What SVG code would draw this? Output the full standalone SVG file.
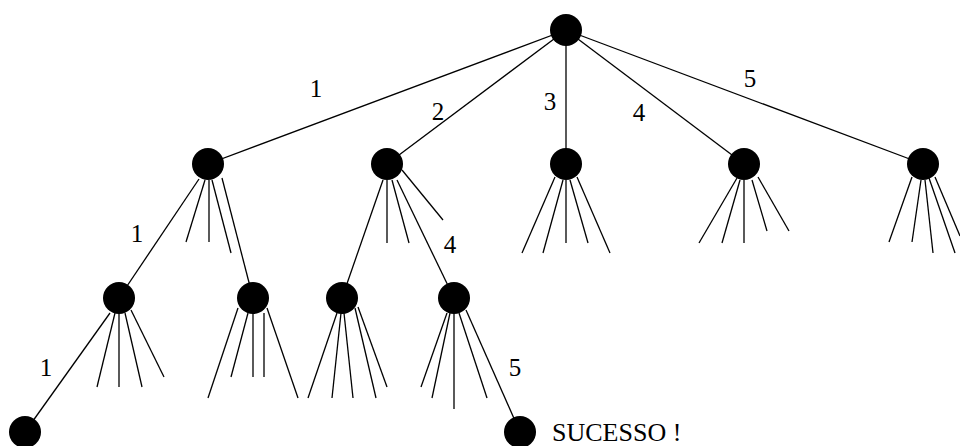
<svg xmlns="http://www.w3.org/2000/svg" width="960" height="446" viewBox="0 0 960 446">
<style>
.e{stroke:#000;stroke-width:1.3;fill:none}
.n{fill:#000}
.t{font-family:"Liberation Serif","Times New Roman",serif;font-size:25px;fill:#000}
</style>
<rect width="960" height="446" fill="#fff"/>
<g id="connectors" class="e">
<line x1="566" y1="30" x2="208" y2="164"/>
<line x1="566" y1="30" x2="387" y2="164"/>
<line x1="566" y1="30" x2="566" y2="164"/>
<line x1="566" y1="30" x2="744" y2="164"/>
<line x1="566" y1="30" x2="923" y2="164"/>
<line x1="199" y1="179" x2="119" y2="298"/>
<line x1="205" y1="180" x2="186" y2="242"/>
<line x1="209" y1="180" x2="209" y2="242"/>
<line x1="212" y1="180" x2="231" y2="253"/>
<line x1="222" y1="178" x2="253" y2="298"/>
<line x1="383" y1="180" x2="342" y2="298"/>
<line x1="387" y1="180" x2="387" y2="243"/>
<line x1="392" y1="180" x2="409" y2="243"/>
<line x1="397" y1="180" x2="454" y2="298"/>
<line x1="402" y1="170" x2="443" y2="220"/>
<line x1="555" y1="177" x2="522" y2="253"/>
<line x1="563" y1="180" x2="543" y2="253"/>
<line x1="566" y1="180" x2="566" y2="243"/>
<line x1="570" y1="180" x2="588" y2="243"/>
<line x1="577" y1="177" x2="610" y2="253"/>
<line x1="737" y1="178" x2="699" y2="243"/>
<line x1="740" y1="180" x2="722" y2="243"/>
<line x1="744" y1="180" x2="744" y2="243"/>
<line x1="752" y1="180" x2="767" y2="231"/>
<line x1="758" y1="177" x2="789" y2="231"/>
<line x1="912" y1="177" x2="889" y2="242"/>
<line x1="921" y1="180" x2="912" y2="242"/>
<line x1="925" y1="180" x2="933" y2="253"/>
<line x1="929" y1="178" x2="955" y2="253"/>
<line x1="935" y1="177" x2="960" y2="236"/>
<line x1="110" y1="313" x2="25" y2="432"/>
<line x1="115" y1="313" x2="97" y2="387"/>
<line x1="119" y1="313" x2="119" y2="387"/>
<line x1="125" y1="313" x2="142" y2="387"/>
<line x1="131" y1="310" x2="164" y2="377"/>
<line x1="238" y1="308" x2="208" y2="398"/>
<line x1="248" y1="313" x2="231" y2="377"/>
<line x1="253" y1="313" x2="253" y2="377"/>
<line x1="264" y1="313" x2="264" y2="377"/>
<line x1="267" y1="308" x2="298" y2="398"/>
<line x1="337" y1="313" x2="308" y2="398"/>
<line x1="341" y1="313" x2="332" y2="398"/>
<line x1="344" y1="313" x2="353" y2="398"/>
<line x1="355" y1="308" x2="376" y2="398"/>
<line x1="358" y1="307" x2="387" y2="387"/>
<line x1="447" y1="313" x2="421" y2="387"/>
<line x1="450" y1="313" x2="432" y2="398"/>
<line x1="454" y1="313" x2="454" y2="409"/>
<line x1="459" y1="313" x2="487" y2="398"/>
<line x1="466" y1="310" x2="520" y2="432"/>
</g>
<g id="root"><circle class="n" cx="566" cy="30" r="16"/></g>
<g id="n1"><circle class="n" cx="208" cy="164" r="16"/></g>
<g id="n2"><circle class="n" cx="387" cy="164" r="16"/></g>
<g id="n3"><circle class="n" cx="566" cy="164" r="16"/></g>
<g id="n4"><circle class="n" cx="744" cy="164" r="16"/></g>
<g id="n5"><circle class="n" cx="923" cy="164" r="16"/></g>
<g id="n11"><circle class="n" cx="119" cy="298" r="16"/></g>
<g id="n15"><circle class="n" cx="253" cy="298" r="16"/></g>
<g id="n21"><circle class="n" cx="342" cy="298" r="16"/></g>
<g id="n24"><circle class="n" cx="454" cy="298" r="16"/></g>
<g id="n111"><circle class="n" cx="25" cy="432" r="16"/></g>
<g id="n245"><circle class="n" cx="520" cy="432" r="16"/></g>
<g id="labels" class="t" text-anchor="middle">
<text x="316" y="97">1</text>
<text x="438" y="120">2</text>
<text x="550" y="110">3</text>
<text x="639" y="121">4</text>
<text x="750" y="87">5</text>
<text x="137" y="242">1</text>
<text x="450" y="253">4</text>
<text x="46" y="376">1</text>
<text x="515" y="376">5</text>
<text x="552" y="441" text-anchor="start" style="font-size:26px">SUCESSO !</text>
</g>
</svg>
